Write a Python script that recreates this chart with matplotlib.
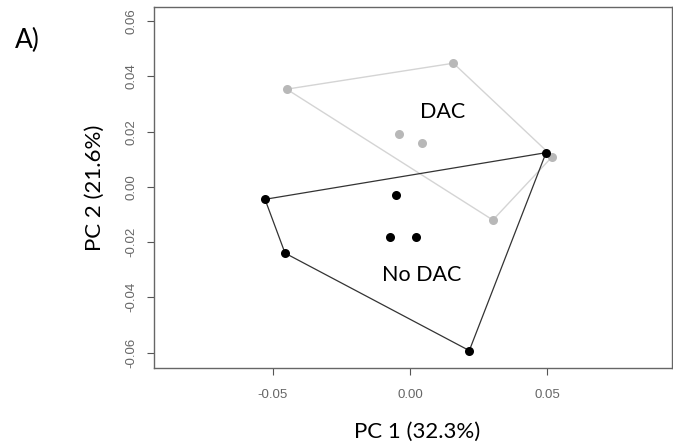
import matplotlib.pyplot as plt

# PCA scores
dac_x = [-0.0450, 0.0158, -0.0039, 0.0045, 0.0302, 0.0519]
dac_y = [0.0354, 0.0448, 0.0191, 0.0160, -0.0120, 0.0110]
nodac_x = [0.0496, -0.0529, -0.0456, -0.0052, -0.0073, 0.0022, 0.0216]
nodac_y = [0.0124, -0.0045, -0.0240, -0.0028, -0.0180, -0.0182, -0.0593]

# hull vertex order (indices into the lists above)
dac_hull = [0, 1, 5, 4, 0]
nodac_hull = [1, 0, 6, 2, 1]

xticks = [-0.05, 0.00, 0.05]
yticks = [-0.06, -0.04, -0.02, 0.00, 0.02, 0.04, 0.06]

lab_font = ['Lato', 'DejaVu Sans']
tick_font = ['Liberation Sans', 'DejaVu Sans']

fig = plt.figure(figsize=(6.73, 4.48), dpi=100)
ax = fig.add_axes([0.2288, 0.1786, 0.770, 0.806])

ax.plot([dac_x[i] for i in dac_hull], [dac_y[i] for i in dac_hull],
        color='#d4d4d4', lw=1.0, zorder=1)
ax.plot([nodac_x[i] for i in nodac_hull], [nodac_y[i] for i in nodac_hull],
        color='#333333', lw=0.9, zorder=2)
ax.plot(dac_x, dac_y, 'o', color='#b8b8b8', ms=6.5, mec='none', zorder=3)
ax.plot(nodac_x, nodac_y, 'o', color='black', ms=6.5, mec='none', zorder=4)

ax.text(0.0117, 0.0272, 'DAC', fontsize=15.5, family=lab_font, ha='center', va='center')
ax.text(0.0044, -0.0319, 'No DAC', fontsize=15.5, family=lab_font, ha='center', va='center')

ax.set_xlim(-0.0934, 0.0956)
ax.set_ylim(-0.0656, 0.0652)
ax.set_xticks(xticks)
ax.set_xticklabels(['%.2f' % v for v in xticks], fontsize=9.5, color='#666666', family=tick_font)
ax.set_yticks(yticks)
ax.set_yticklabels(['%.2f' % v for v in yticks], fontsize=9.5, color='#666666',
                   family=tick_font, rotation=90, va='center')
ax.tick_params(direction='out', length=5, width=0.8, color='#555555')
ax.tick_params(axis='x', pad=10)
ax.tick_params(axis='y', pad=7)
for s in ax.spines.values():
    s.set_color('#666666')
    s.set_linewidth(1.0)

fig.text(417 / 673, 1 - 432 / 448, 'PC 1 (32.3%)', fontsize=16, family=lab_font,
         ha='center', va='center')
fig.text(95 / 673, 1 - 188 / 448, 'PC 2 (21.6%)', fontsize=16, family=lab_font,
         ha='center', va='center', rotation=90)
fig.text(27 / 673, 1 - 40 / 448, 'A)', fontsize=19, family=lab_font,
         ha='center', va='center')

fig.savefig('out.png', dpi=100)
